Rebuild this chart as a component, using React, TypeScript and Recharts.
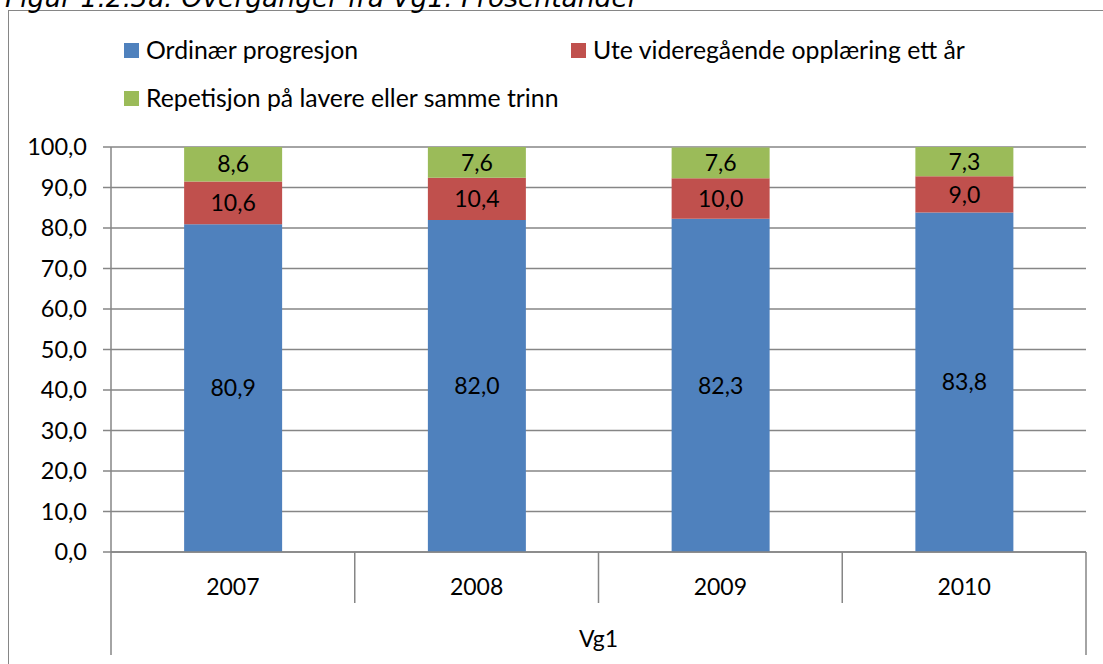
import { BarChart, Bar, XAxis, YAxis, CartesianGrid, LabelList } from 'recharts'

const YEARS = ['2007', '2008', '2009', '2010']
const ORDINAER = [80.9, 82.0, 82.3, 83.8]
const UTE = [10.6, 10.4, 10.0, 9.0]
const REPETISJON = [8.6, 7.6, 7.6, 7.3]
const Y_TICKS = [0, 10, 20, 30, 40, 50, 60, 70, 80, 90, 100]

const SERIES = [
  { key: 'ordinaer', label: 'Ordinær progresjon', color: '#4F81BD' },
  { key: 'ute', label: 'Ute videregående opplæring ett år', color: '#C0504D' },
  { key: 'repetisjon', label: 'Repetisjon på lavere eller samme trinn', color: '#9BBB59' },
]

const data = YEARS.map((year, i) => ({
  year,
  ordinaer: ORDINAER[i],
  ute: UTE[i],
  repetisjon: REPETISJON[i],
}))

const FONT = 'Lato, "Open Sans", sans-serif'
const AXIS = '#868686'
const W = 1103
const H = 664
const MARGIN = { top: 147, right: 17, bottom: 0, left: 0 }
const Y_W = 111
const X_H = 112
const PLOT_W = W - MARGIN.left - MARGIN.right - Y_W

const comma = (v: number) => v.toFixed(1).replace('.', ',')

// year labels + the separator lines of the two-level category axis
const YearTick = (props: any) => {
  const { x, y, payload, index } = props
  const half = payload?.offset || PLOT_W / YEARS.length / 2
  const last = index === YEARS.length - 1
  return (
    <g>
      <line x1={x - half} x2={x - half} y1={y} y2={y + (index === 0 ? 103 : 51)} stroke={AXIS} strokeWidth={1.5} />
      {last && <line x1={x + half} x2={x + half} y1={y} y2={y + 103} stroke={AXIS} strokeWidth={1.5} />}
      <text x={x} y={y + 43} textAnchor="middle" fontSize={23} fontFamily={FONT} fill="#000">
        {payload.value}
      </text>
    </g>
  )
}

export default function App() {
  return (
    <div style={{ position: 'absolute', left: 0, top: 0, width: W, height: H, overflow: 'hidden', background: '#fff', fontFamily: FONT }}>
      {/* frame: only top and left edges are inside the picture */}
      <div style={{ position: 'absolute', left: 8, top: 10, width: W, height: H, borderTop: `1.5px solid ${AXIS}`, borderLeft: `1.5px solid ${AXIS}` }} />
      {/* title, cut off at the top like the source */}
      <div
        style={{
          position: 'absolute', left: 5, top: -15, fontFamily: '"DejaVu Sans", Verdana, sans-serif',
          fontStyle: 'italic', fontSize: 26.5, whiteSpace: 'nowrap', color: '#000', lineHeight: '26px',
        }}
      >
        Figur 1.2.3a: Overganger fra Vg1. Prosentandel
      </div>

      {/* legend */}
      {[
        { s: SERIES[0], left: 124, top: 42 },
        { s: SERIES[1], left: 571, top: 42 },
        { s: SERIES[2], left: 124, top: 90 },
      ].map(({ s, left, top }) => (
        <div key={s.key} style={{ position: 'absolute', left, top: top - 6, display: 'flex', alignItems: 'center', whiteSpace: 'nowrap' }}>
          <span style={{ width: 15, height: 15, background: s.color, display: 'inline-block', marginRight: 7 }} />
          <span style={{ fontSize: 24.8, lineHeight: '28px', color: '#000' }}>{s.label}</span>
        </div>
      ))}

      <div style={{ position: 'absolute', left: 0, top: 0 }}>
        <BarChart width={W} height={H} data={data} margin={MARGIN} barCategoryGap="30%">
          <CartesianGrid vertical={false} stroke={AXIS} strokeWidth={1.5} />
          <XAxis
            dataKey="year"
            height={X_H}
            axisLine={{ stroke: AXIS, strokeWidth: 1.5 }}
            tickLine={false}
            tickSize={0}
            tickMargin={0}
            tick={<YearTick />}
            interval={0}
            label={{ value: 'Vg1', position: 'insideBottom', offset: 17, fill: '#000', fontSize: 23, fontFamily: FONT }}
          />
          <YAxis
            width={Y_W}
            domain={[0, 100]}
            allowDataOverflow
            ticks={Y_TICKS}
            interval={0}
            tickFormatter={comma}
            axisLine={{ stroke: AXIS, strokeWidth: 1.5 }}
            tickLine={{ stroke: AXIS, strokeWidth: 1.5 }}
            tickSize={8}
            tickMargin={16}
            tick={{ fontSize: 23.5, fontFamily: FONT, fill: '#000' }}
          />
          {SERIES.map(s => (
            <Bar key={s.key} dataKey={s.key} stackId="a" fill={s.color} isAnimationActive={false}>
              <LabelList dataKey={s.key} position="center" formatter={(v: any) => comma(Number(v))} fill="#000" fontSize={23} fontFamily={FONT} />
            </Bar>
          ))}
        </BarChart>
      </div>
    </div>
  )
}
